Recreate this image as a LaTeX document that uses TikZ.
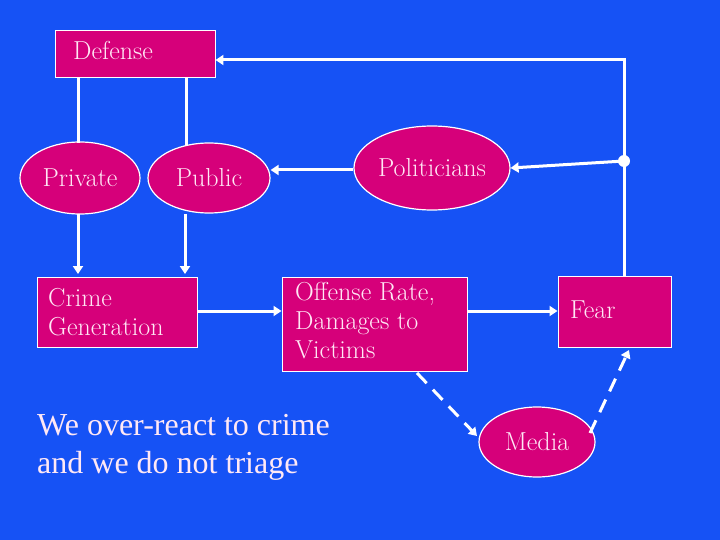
\documentclass[tikz,border=0pt]{standalone}
\usepackage{fontspec}
\newfontfamily\timesf{Liberation Serif}
\usetikzlibrary{arrows.meta,shapes.geometric}
\definecolor{bg}{RGB}{22,82,245}
\definecolor{mag}{RGB}{214,0,122}
\definecolor{txt}{RGB}{255,232,245}
\begin{document}
\begin{tikzpicture}[x=1pt,y=-1pt,
  boxn/.style={draw=white,line width=0.9pt,fill=mag,inner sep=0pt},
  lbl/.style={text=txt,anchor=base west,align=left,inner sep=0pt,font=\fontsize{26}{29}\selectfont},
  elln/.style={ellipse,draw=white,line width=1.2pt,fill=mag,text=txt,inner sep=0pt,font=\fontsize{26}{29}\selectfont},
  conn/.style={draw=white,line width=3pt},
  arr/.style={conn,-{Triangle[width=10pt,length=8pt]}},
  darr/.style={arr,dash pattern=on 14pt off 9pt}]
\fill[bg] (0,0) rectangle (720,540);
\useasboundingbox (0,0) rectangle (720,540);
% boxes
\node[boxn,minimum width=160pt,minimum height=47pt] (def) at (135,53.5) {};
\node[lbl] (deft) at (73,60) {Defense};
\node[boxn,minimum width=160pt,minimum height=70pt] (crime) at (117,312) {};
\node[lbl] (crimet) at (48,335) {Crime\\Generation};
\node[boxn,minimum width=185pt,minimum height=94pt] (off) at (374.5,324) {};
\node[lbl] (offt) at (295,358) {Offense Rate,\\Damages to\\Victims};
\node[boxn,minimum width=113pt,minimum height=71pt] (fear) at (614.5,311.5) {};
\node[lbl] (feart) at (570,318) {Fear};
% ellipses
\node[elln,minimum width=120pt,minimum height=72pt] (priv) at (80,178) {Private};
\node[elln,minimum width=122pt,minimum height=70pt] (pub) at (209,178) {Public};
\node[elln,minimum width=156pt,minimum height=84pt] (pol) at (432,168) {Politicians};
\node[elln,minimum width=116pt,minimum height=70pt] (med) at (537,442) {Media};
% coordinates
\coordinate (c1) at (624,60);
\coordinate (dot) at (624,161);
% connectors
\draw[conn] (78,77) -- (78,143);
\draw[conn] (186,77) -- (186,145);
\draw[arr] (78,214) -- (78,274);
\draw[arr] (185,214) -- (185,274);
\draw[arr] (crime.east |- 0,311) -- (off.west |- 0,311);
\draw[arr] (off.east |- 0,311) -- (fear.west |- 0,311);
\draw[arr] (fear.north -| c1) -- (c1) -- (def.east |- c1);
\draw[arr] (dot) -- (pol.east);
\fill[white] (dot) circle (6pt);
\draw[arr] (pol.west |- 0,170) -- (pub.east |- 0,170);
\draw[darr] (417,373) -- (477,436);
\draw[darr] (590,433) -- (629,350);
% text
\node[text=txt,anchor=north west,align=left,inner sep=0pt,font=\timesf\fontsize{32}{38}\selectfont] (note) at (37,414) {We over-react to crime\\and we do not triage};
\end{tikzpicture}
\end{document}
